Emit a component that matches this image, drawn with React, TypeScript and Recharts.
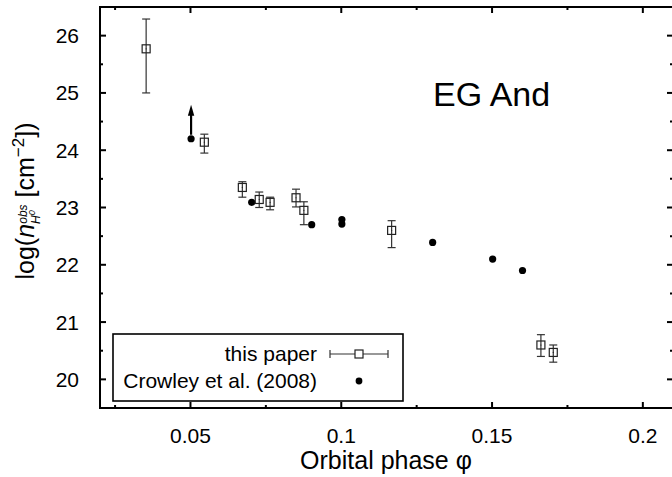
import React from 'react';
import { ScatterChart, Scatter, XAxis, YAxis, ErrorBar, ReferenceArea } from 'recharts';

// this paper: orbital phase, log n and the ends of the error bar
const paperPhase = [0.0353, 0.0546, 0.0672, 0.0728, 0.0764, 0.085, 0.0876, 0.1167, 0.1662, 0.1703];
const paperLogN = [25.77, 24.14, 23.35, 23.14, 23.09, 23.17, 22.95, 22.6, 20.6, 20.47];
const paperLow = [25.0, 23.95, 23.18, 23.0, 22.96, 23.01, 22.7, 22.3, 20.4, 20.3];
const paperHigh = [26.29, 24.28, 23.45, 23.27, 23.18, 23.32, 23.1, 22.77, 20.78, 20.6];

// Crowley et al. (2008)
const crowleyPhase = [0.0502, 0.0703, 0.0902, 0.1002, 0.1002, 0.1303, 0.1502, 0.1601];
const crowleyLogN = [24.2, 23.09, 22.7, 22.79, 22.71, 22.39, 22.1, 21.9];
const crowleyLowerLimit = [true, false, false, false, false, false, false, false];

const xMajor = [0.05, 0.1, 0.15, 0.2];
const xMinor = [0.025, 0.075, 0.125, 0.175];
const yMajor = [20, 21, 22, 23, 24, 25, 26];
const yMinor = [20.5, 21.5, 22.5, 23.5, 24.5, 25.5];

const xDomain = [0.02, 0.21];
const yDomain = [19.5, 26.5];

const paperData = paperPhase.map((phase, i) => ({
  phase,
  logN: paperLogN[i],
  err: [paperLogN[i] - paperLow[i], paperHigh[i] - paperLogN[i]],
}));

const crowleyData = crowleyPhase.map((phase, i) => ({
  phase,
  logN: crowleyLogN[i],
  lowerLimit: crowleyLowerLimit[i],
}));

// plot box in page pixels (set by the margins below)
const PLOT = { left: 100, right: 673, top: 7, bottom: 408 };
const FONT = '"Liberation Sans", Arial, Helvetica, sans-serif';
const TICK_FS = 21;

const XTick = (props: any) => {
  const { x, payload } = props;
  const major = xMajor.includes(payload.value);
  const len = major ? 6 : 3;
  return (
    <g>
      <line x1={x} x2={x} y1={PLOT.bottom} y2={PLOT.bottom - len} stroke="#000" strokeWidth={2} />
      <line x1={x} x2={x} y1={PLOT.top} y2={PLOT.top + len} stroke="#000" strokeWidth={2} />
      {major && (
        <text x={x} y={PLOT.bottom + 35} textAnchor="middle" fontSize={TICK_FS} fontFamily={FONT} fill="#000">
          {payload.value}
        </text>
      )}
    </g>
  );
};

const YTick = (props: any) => {
  const { y, payload } = props;
  const major = yMajor.includes(payload.value);
  const len = major ? 6 : 3;
  return (
    <g>
      <line x1={PLOT.left} x2={PLOT.left + len} y1={y} y2={y} stroke="#000" strokeWidth={2} />
      <line x1={PLOT.right} x2={PLOT.right - len} y1={y} y2={y} stroke="#000" strokeWidth={2} />
      {major && (
        <text x={PLOT.left - 21} y={y + 7.5} textAnchor="end" fontSize={TICK_FS} fontFamily={FONT} fill="#000">
          {payload.value}
        </text>
      )}
    </g>
  );
};

const SquareMark = (props: any) => {
  const { cx, cy } = props;
  return (
    <g>
      <rect x={cx - 4} y={cy - 4} width={8} height={8} fill="none" stroke="#222" strokeWidth={1.2} />
      <circle cx={cx} cy={cy} r={0.6} fill="#222" />
    </g>
  );
};

const DotMark = (props: any) => {
  const { cx, cy, payload } = props;
  return (
    <g>
      <circle cx={cx} cy={cy} r={3.6} fill="#000" />
      {payload.lowerLimit && (
        <g>
          <line x1={cx} x2={cx} y1={cy - 4} y2={cy - 25} stroke="#000" strokeWidth={2.2} />
          <polygon points={`${cx},${cy - 34} ${cx - 3.2},${cy - 23} ${cx + 3.2},${cy - 23}`} fill="#000" />
        </g>
      )}
    </g>
  );
};

const Overlay = () => (
  <svg
    width={672}
    height={477}
    style={{ position: 'absolute', left: 0, top: 0, pointerEvents: 'none' }}
    fontFamily={FONT}
  >
    <text x={433} y={106} fontSize={34} fill="#000">EG And</text>

    <text x={386} y={469} textAnchor="middle" fontSize={25} fill="#000">Orbital phase φ</text>

    <text transform="translate(34,201) rotate(-90)" textAnchor="middle" fontSize={25} fill="#000">
      log(<tspan fontStyle="italic">n</tspan>
      <tspan fontSize={12} fontStyle="italic" dy={6}>H</tspan>
      <tspan fontSize={9} fontStyle="italic" dy={-5}>0</tspan>
      <tspan fontSize={12} fontStyle="italic" dx={-13.5} dy={-8}>obs</tspan>
      <tspan dy={7}> [cm</tspan>
      <tspan fontSize={17} dy={-10}>−2</tspan>
      <tspan dy={10}>])</tspan>
    </text>

    <g>
      <rect x={113} y={334} width={290} height={67} fill="#fff" stroke="#000" strokeWidth={1.6} />
      <text x={317} y={361} textAnchor="end" fontSize={21} fill="#000">this paper</text>
      <text x={317} y={388} textAnchor="end" fontSize={21} fill="#000">Crowley et al. (2008)</text>
      <line x1={330} x2={388} y1={354} y2={354} stroke="#333" strokeWidth={1.2} />
      <line x1={330} x2={330} y1={350} y2={358} stroke="#333" strokeWidth={1.2} />
      <line x1={388} x2={388} y1={350} y2={358} stroke="#333" strokeWidth={1.2} />
      <rect x={355} y={350} width={8} height={8} fill="#fff" stroke="#222" strokeWidth={1.2} />
      <circle cx={359} cy={381} r={3.4} fill="#000" />
    </g>
  </svg>
);

export default function App() {
  return (
    <div
      style={{
        position: 'absolute',
        left: 0,
        top: 0,
        width: 672,
        height: 477,
        overflow: 'hidden',
        background: '#fff',
      }}
    >
      <ScatterChart width={690} height={477} margin={{ top: 7, right: 17, bottom: 0, left: 0 }}>
        <XAxis
          xAxisId="x"
          type="number"
          dataKey="phase"
          domain={xDomain}
          allowDataOverflow
          ticks={[...xMinor, ...xMajor]}
          interval={0}
          height={69}
          axisLine={false}
          tickLine={false}
          tick={<XTick />}
        />
        <YAxis
          yAxisId="y"
          type="number"
          dataKey="logN"
          domain={yDomain}
          allowDataOverflow
          ticks={[...yMinor, ...yMajor]}
          interval={0}
          width={100}
          axisLine={false}
          tickLine={false}
          tick={<YTick />}
        />
        <ReferenceArea
          xAxisId="x"
          yAxisId="y"
          x1={xDomain[0]}
          x2={xDomain[1]}
          y1={yDomain[0]}
          y2={yDomain[1]}
          fill="none"
          stroke="#000"
          strokeWidth={2}
          ifOverflow="visible"
        />
        <Scatter
          name="Crowley et al. (2008)"
          xAxisId="x"
          yAxisId="y"
          data={crowleyData}
          shape={<DotMark />}
          isAnimationActive={false}
        />
        <Scatter
          name="this paper"
          xAxisId="x"
          yAxisId="y"
          data={paperData}
          shape={<SquareMark />}
          isAnimationActive={false}
        >
          <ErrorBar dataKey="err" direction="y" width={4} stroke="#333" strokeWidth={1.2} isAnimationActive={false} />
        </Scatter>
      </ScatterChart>
      <Overlay />
    </div>
  );
}
